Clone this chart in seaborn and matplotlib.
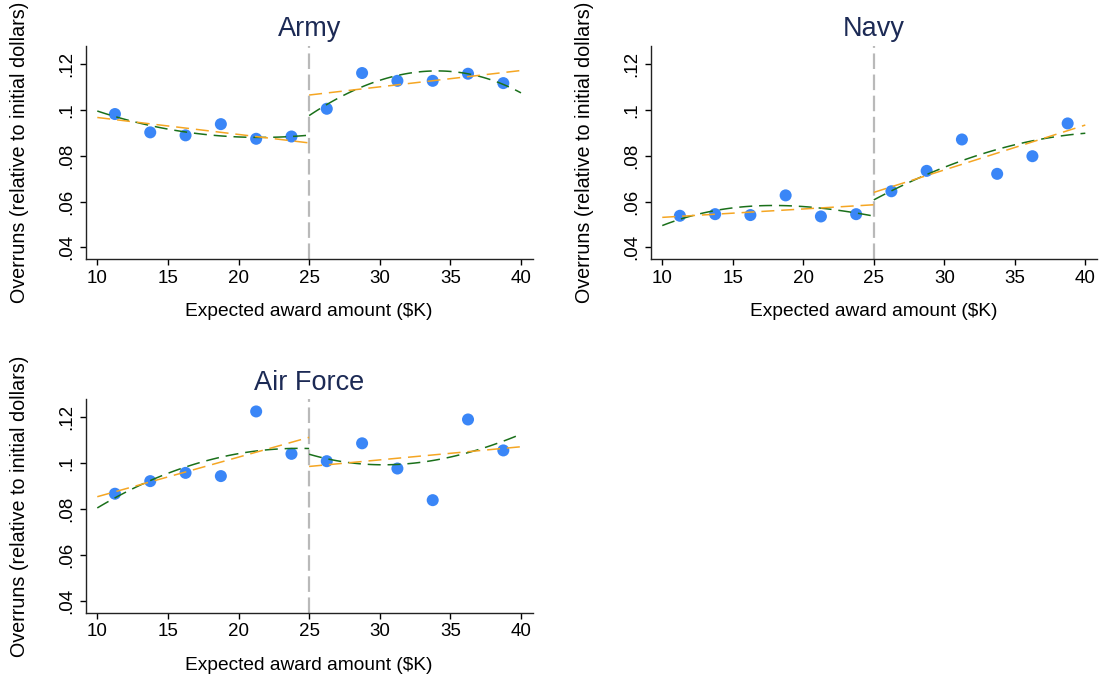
import numpy as np
import pandas as pd
import matplotlib
matplotlib.use("Agg")
import matplotlib.pyplot as plt
import seaborn as sns

# ---- data ----
bin_centers = [11.25, 13.75, 16.25, 18.75, 21.25, 23.75,
               26.25, 28.75, 31.25, 33.75, 36.25, 38.75]

army_means = [0.0982, 0.0902, 0.0889, 0.0938, 0.0874, 0.0884,
              0.1005, 0.1161, 0.1127, 0.1127, 0.1158, 0.1117]
navy_means = [0.0538, 0.0545, 0.0541, 0.0627, 0.0535, 0.0545,
              0.0645, 0.0734, 0.0871, 0.0721, 0.0798, 0.0941]
airforce_means = [0.0867, 0.0922, 0.0958, 0.0944, 0.1226, 0.1041,
                  0.1009, 0.1087, 0.0977, 0.0839, 0.1191, 0.1056]

# fitted curves (values read at these x positions)
fit_x_left = [10, 12.5, 15, 17.5, 20, 22.5, 25]
fit_x_right = [25, 27.5, 30, 32.5, 35, 37.5, 40]
lin_x_left = [10, 25]
lin_x_right = [25, 40]

army_poly_left = [0.0995, 0.0951, 0.0915, 0.0894, 0.0883, 0.0880, 0.0890]
army_poly_right = [0.0977, 0.1060, 0.1134, 0.1164, 0.1167, 0.1138, 0.1075]
army_lin_left = [0.0967, 0.0856]
army_lin_right = [0.1065, 0.1172]

navy_poly_left = [0.0493, 0.0551, 0.0567, 0.0581, 0.0581, 0.0562, 0.0536]
navy_poly_right = [0.0609, 0.0679, 0.0752, 0.0807, 0.0846, 0.0878, 0.0899]
navy_lin_left = [0.0531, 0.0586]
navy_lin_right = [0.0640, 0.0934]

airforce_poly_left = [0.0807, 0.0883, 0.0960, 0.1009, 0.1040, 0.1060, 0.1065]
airforce_poly_right = [0.1039, 0.1006, 0.0995, 0.0999, 0.1026, 0.1072, 0.1126]
airforce_lin_left = [0.0854, 0.1113]
airforce_lin_right = [0.0986, 0.1072]

cutoff = 25
x_ticks = [10, 15, 20, 25, 30, 35, 40]
y_ticks = [0.04, 0.06, 0.08, 0.10, 0.12]
y_ticklabels = [".04", ".06", ".08", ".1", ".12"]

panels = [
    ("Army", army_means, army_poly_left, army_poly_right, army_lin_left, army_lin_right),
    ("Navy", navy_means, navy_poly_left, navy_poly_right, navy_lin_left, navy_lin_right),
    ("Air Force", airforce_means, airforce_poly_left, airforce_poly_right,
     airforce_lin_left, airforce_lin_right),
]

# ---- style ----
sns.set_theme(style="ticks")
plt.rcParams["font.family"] = ["Liberation Sans", "DejaVu Sans"]

W, H = 1103, 681
fig = plt.figure(figsize=(W / 100, H / 100), dpi=100)
fig.patch.set_facecolor("white")

# axes boxes in pixels: left, top, right, bottom
boxes = [
    (85.7, 46.0, 532.7, 259.3),
    (650.7, 46.0, 1097.0, 259.3),
    (85.7, 399.3, 532.7, 612.7),
]

dot_color = "#3a86f7"
green = "#1a701a"
orange = "#f5a623"
dash = (0, (8.5, 4.5))

for (title, means, pl, pr, ll, lr), (l, t, r, b) in zip(panels, boxes):
    ax = fig.add_axes([l / W, 1 - b / H, (r - l) / W, (b - t) / H])
    ax.set_facecolor("white")
    ax.axvline(cutoff, color="#b9b9b9", lw=1.6, ls=(0, (7, 2.5)), zorder=1)
    sns.scatterplot(x=bin_centers, y=means, ax=ax, color=dot_color, s=75,
                    edgecolor="none", linewidth=0, zorder=3)
    for xs, ys, order, col in [(fit_x_left, pl, 3, green), (fit_x_right, pr, 3, green),
                               (lin_x_left, ll, 1, orange), (lin_x_right, lr, 1, orange)]:
        sns.regplot(x=xs, y=ys, order=order, ci=None, scatter=False, ax=ax,
                    color=col, truncate=True,
                    line_kws={"lw": 1.1, "ls": dash, "zorder": 4})
    ax.set_xlim(9.18, 40.83)
    ax.set_ylim(0.0348, 0.1279)
    ax.set_xticks(x_ticks)
    ax.set_xticklabels([str(v) for v in x_ticks])
    ax.set_yticks(y_ticks)
    ax.set_yticklabels(y_ticklabels, rotation=90, va="center")
    ax.tick_params(axis="both", direction="out", length=4.5, width=1.0,
                   color="black", labelsize=13.5, pad=3, labelcolor="black")
    sns.despine(ax=ax)
    for s in ["left", "bottom"]:
        ax.spines[s].set_color("#222222")
        ax.spines[s].set_linewidth(1.0)
    ax.set_title(title, fontsize=19.5, color="#1c2a55", pad=7)
    ax.set_xlabel("Expected award amount ($K)", fontsize=13.8, color="black", labelpad=12)
    ax.set_ylabel("Overruns (relative to initial dollars)", fontsize=14.2, color="black")
    ax.yaxis.set_label_coords(-0.126, 0.5)

fig.savefig("out.png", dpi=100, facecolor="white")
